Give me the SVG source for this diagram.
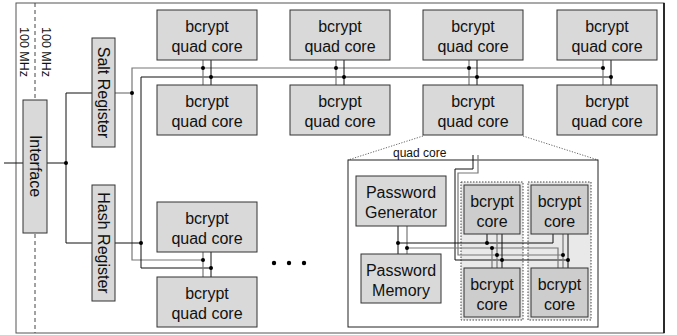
<svg xmlns="http://www.w3.org/2000/svg" width="677" height="335" viewBox="0 0 677 335">
<style>
text{font-family:"Liberation Sans",Arial,sans-serif;fill:#111}
.box{fill:#d9d9d9;stroke:#333;stroke-width:1}
.core{fill:#cdcdcd;stroke:#333;stroke-width:1}
.t16{font-size:16px}
.t13{font-size:12.5px}
.t12{font-size:12px}
.k{stroke:#111;stroke-width:1;fill:none}
.g{stroke:#777;stroke-width:1.2;fill:none}
.dot{fill:#000}
.grp{fill:#e9e9e9;stroke:#444;stroke-width:1;stroke-dasharray:1.5 1.5}
</style>
<rect x="0" y="0" width="677" height="335" fill="#fff"/>
<g id="frame">
<rect x="16" y="3" width="648" height="330" fill="none" stroke="#555" stroke-width="1"/>
<line x1="664" y1="3" x2="664" y2="333" stroke="#000" stroke-width="1.5"/>
<line x1="35" y1="3" x2="35" y2="333" stroke="#444" stroke-width="1" stroke-dasharray="4 3"/>
<text class="t13" transform="translate(19.5,27) rotate(90)">100 MHz</text>
<text class="t13" transform="translate(41.5,27) rotate(90)">100 MHz</text>
</g>
<g id="detail-frame">
<line x1="423" y1="136" x2="348" y2="160" stroke="#666" stroke-dasharray="1.2 1.5"/>
<line x1="523" y1="136" x2="598" y2="160" stroke="#666" stroke-dasharray="1.2 1.5"/>
<rect x="348" y="160" width="250" height="167" fill="#fff" stroke="#222"/>
<text class="t12" x="393" y="157">quad core</text>
<rect class="grp" x="461" y="182" width="62" height="138"/>
<rect class="grp" x="528" y="182" width="63" height="138"/>
</g>
<g id="connectors">
<line class="k" x1="4" y1="163" x2="23" y2="163"/>
<line class="k" x1="47" y1="163" x2="66" y2="163"/>
<polyline class="k" points="92,93 66,93 66,243 92,243"/>
<polyline class="g" points="115,93 132,93"/>
<polyline class="g" points="603,68 132,68 132,260 203,260"/>
<polyline class="k" points="115,243 141,243"/>
<polyline class="k" points="611,77 141,77 141,268 211,268"/>
<line class="g" x1="203" y1="60" x2="203" y2="85"/><line class="k" x1="211" y1="60" x2="211" y2="85"/>
<line class="g" x1="336" y1="60" x2="336" y2="85"/><line class="k" x1="344" y1="60" x2="344" y2="85"/>
<line class="g" x1="469" y1="60" x2="469" y2="85"/><line class="k" x1="477" y1="60" x2="477" y2="85"/>
<line class="g" x1="603" y1="60" x2="603" y2="85"/><line class="k" x1="611" y1="60" x2="611" y2="85"/>
<line class="g" x1="203" y1="252" x2="203" y2="277"/><line class="k" x1="211" y1="252" x2="211" y2="277"/>
<circle class="dot" cx="66" cy="163" r="2"/>
<circle class="dot" cx="132" cy="93" r="2"/>
<circle class="dot" cx="141" cy="243" r="2"/>
<circle class="dot" cx="203" cy="68" r="2"/><circle class="dot" cx="211" cy="77" r="2"/>
<circle class="dot" cx="336" cy="68" r="2"/><circle class="dot" cx="344" cy="77" r="2"/>
<circle class="dot" cx="469" cy="68" r="2"/><circle class="dot" cx="477" cy="77" r="2"/>
<circle class="dot" cx="603" cy="68" r="2"/><circle class="dot" cx="611" cy="77" r="2"/>
<circle class="dot" cx="203" cy="260" r="2"/><circle class="dot" cx="211" cy="268" r="2"/>
<polyline class="k" points="473,155 473,169 455,169 455,260 568,260"/>
<polyline class="g" points="478,155 478,173 458,173 458,255 563,255"/>
<line class="k" x1="398" y1="226" x2="398" y2="254"/>
<line class="g" x1="407" y1="226" x2="407" y2="254"/>
<polyline class="k" points="398,243 553,243 553,234"/>
<polyline class="g" points="407,248 558,248 558,268"/>
<line class="k" x1="487" y1="234" x2="487" y2="243"/>
<line class="g" x1="492" y1="248" x2="492" y2="268"/>
<line class="g" x1="497" y1="234" x2="497" y2="268"/>
<line class="k" x1="502" y1="234" x2="502" y2="268"/>
<line class="g" x1="563" y1="234" x2="563" y2="268"/>
<line class="k" x1="568" y1="234" x2="568" y2="268"/>
<circle class="dot" cx="398" cy="243" r="2"/><circle class="dot" cx="407" cy="248" r="2"/>
<circle class="dot" cx="487" cy="243" r="2"/><circle class="dot" cx="492" cy="248" r="2"/>
<circle class="dot" cx="497" cy="255" r="2"/><circle class="dot" cx="502" cy="260" r="2"/>
<circle class="dot" cx="563" cy="255" r="2"/><circle class="dot" cx="568" cy="260" r="2"/>
</g>
<g id="interface"><rect class="box" x="23" y="100" width="24" height="133"/><text class="t16" text-anchor="middle" transform="translate(29.5,166) rotate(90)">Interface</text></g>
<g id="salt-register"><rect class="box" x="92" y="38" width="23" height="109"/><text class="t16" text-anchor="middle" transform="translate(98,92.5) rotate(90)">Salt Register</text></g>
<g id="hash-register"><rect class="box" x="92" y="185" width="23" height="116"/><text class="t16" text-anchor="middle" transform="translate(98,243) rotate(90)">Hash Register</text></g>
<g id="qc1"><rect class="box" x="157" y="10" width="100" height="50"/><text class="t16" text-anchor="middle" x="207" y="32">bcrypt</text><text class="t16" text-anchor="middle" x="207" y="52">quad core</text></g>
<g id="qc2"><rect class="box" x="290" y="10" width="100" height="50"/><text class="t16" text-anchor="middle" x="340" y="32">bcrypt</text><text class="t16" text-anchor="middle" x="340" y="52">quad core</text></g>
<g id="qc3"><rect class="box" x="423" y="10" width="100" height="50"/><text class="t16" text-anchor="middle" x="473" y="32">bcrypt</text><text class="t16" text-anchor="middle" x="473" y="52">quad core</text></g>
<g id="qc4"><rect class="box" x="557" y="10" width="100" height="50"/><text class="t16" text-anchor="middle" x="607" y="32">bcrypt</text><text class="t16" text-anchor="middle" x="607" y="52">quad core</text></g>
<g id="qc5"><rect class="box" x="157" y="85" width="100" height="50"/><text class="t16" text-anchor="middle" x="207" y="107">bcrypt</text><text class="t16" text-anchor="middle" x="207" y="127">quad core</text></g>
<g id="qc6"><rect class="box" x="290" y="85" width="100" height="50"/><text class="t16" text-anchor="middle" x="340" y="107">bcrypt</text><text class="t16" text-anchor="middle" x="340" y="127">quad core</text></g>
<g id="qc7"><rect class="box" x="423" y="85" width="100" height="50"/><text class="t16" text-anchor="middle" x="473" y="107">bcrypt</text><text class="t16" text-anchor="middle" x="473" y="127">quad core</text></g>
<g id="qc8"><rect class="box" x="557" y="85" width="100" height="50"/><text class="t16" text-anchor="middle" x="607" y="107">bcrypt</text><text class="t16" text-anchor="middle" x="607" y="127">quad core</text></g>
<g id="qc9"><rect class="box" x="157" y="202" width="100" height="50"/><text class="t16" text-anchor="middle" x="207" y="224">bcrypt</text><text class="t16" text-anchor="middle" x="207" y="244">quad core</text></g>
<g id="qc10"><rect class="box" x="157" y="277" width="100" height="50"/><text class="t16" text-anchor="middle" x="207" y="299">bcrypt</text><text class="t16" text-anchor="middle" x="207" y="319">quad core</text></g>
<g id="ellipsis"><circle class="dot" cx="274" cy="263" r="2.2"/><circle class="dot" cx="289" cy="263" r="2.2"/><circle class="dot" cx="304" cy="263" r="2.2"/></g>
<g id="pw-gen"><rect class="box" x="356" y="176" width="90" height="50"/><text class="t16" text-anchor="middle" x="401" y="198">Password</text><text class="t16" text-anchor="middle" x="401" y="218">Generator</text></g>
<g id="pw-mem"><rect class="box" x="361" y="254" width="80" height="49"/><text class="t16" text-anchor="middle" x="401" y="276">Password</text><text class="t16" text-anchor="middle" x="401" y="296">Memory</text></g>
<g id="core1"><rect class="core" x="464" y="185" width="56" height="49"/><text class="t16" text-anchor="middle" x="492" y="207">bcrypt</text><text class="t16" text-anchor="middle" x="492" y="227">core</text></g>
<g id="core2"><rect class="core" x="531" y="185" width="57" height="49"/><text class="t16" text-anchor="middle" x="559.5" y="207">bcrypt</text><text class="t16" text-anchor="middle" x="559.5" y="227">core</text></g>
<g id="core3"><rect class="core" x="464" y="268" width="56" height="49"/><text class="t16" text-anchor="middle" x="492" y="290">bcrypt</text><text class="t16" text-anchor="middle" x="492" y="310">core</text></g>
<g id="core4"><rect class="core" x="531" y="268" width="57" height="49"/><text class="t16" text-anchor="middle" x="559.5" y="290">bcrypt</text><text class="t16" text-anchor="middle" x="559.5" y="310">core</text></g>
</svg>
